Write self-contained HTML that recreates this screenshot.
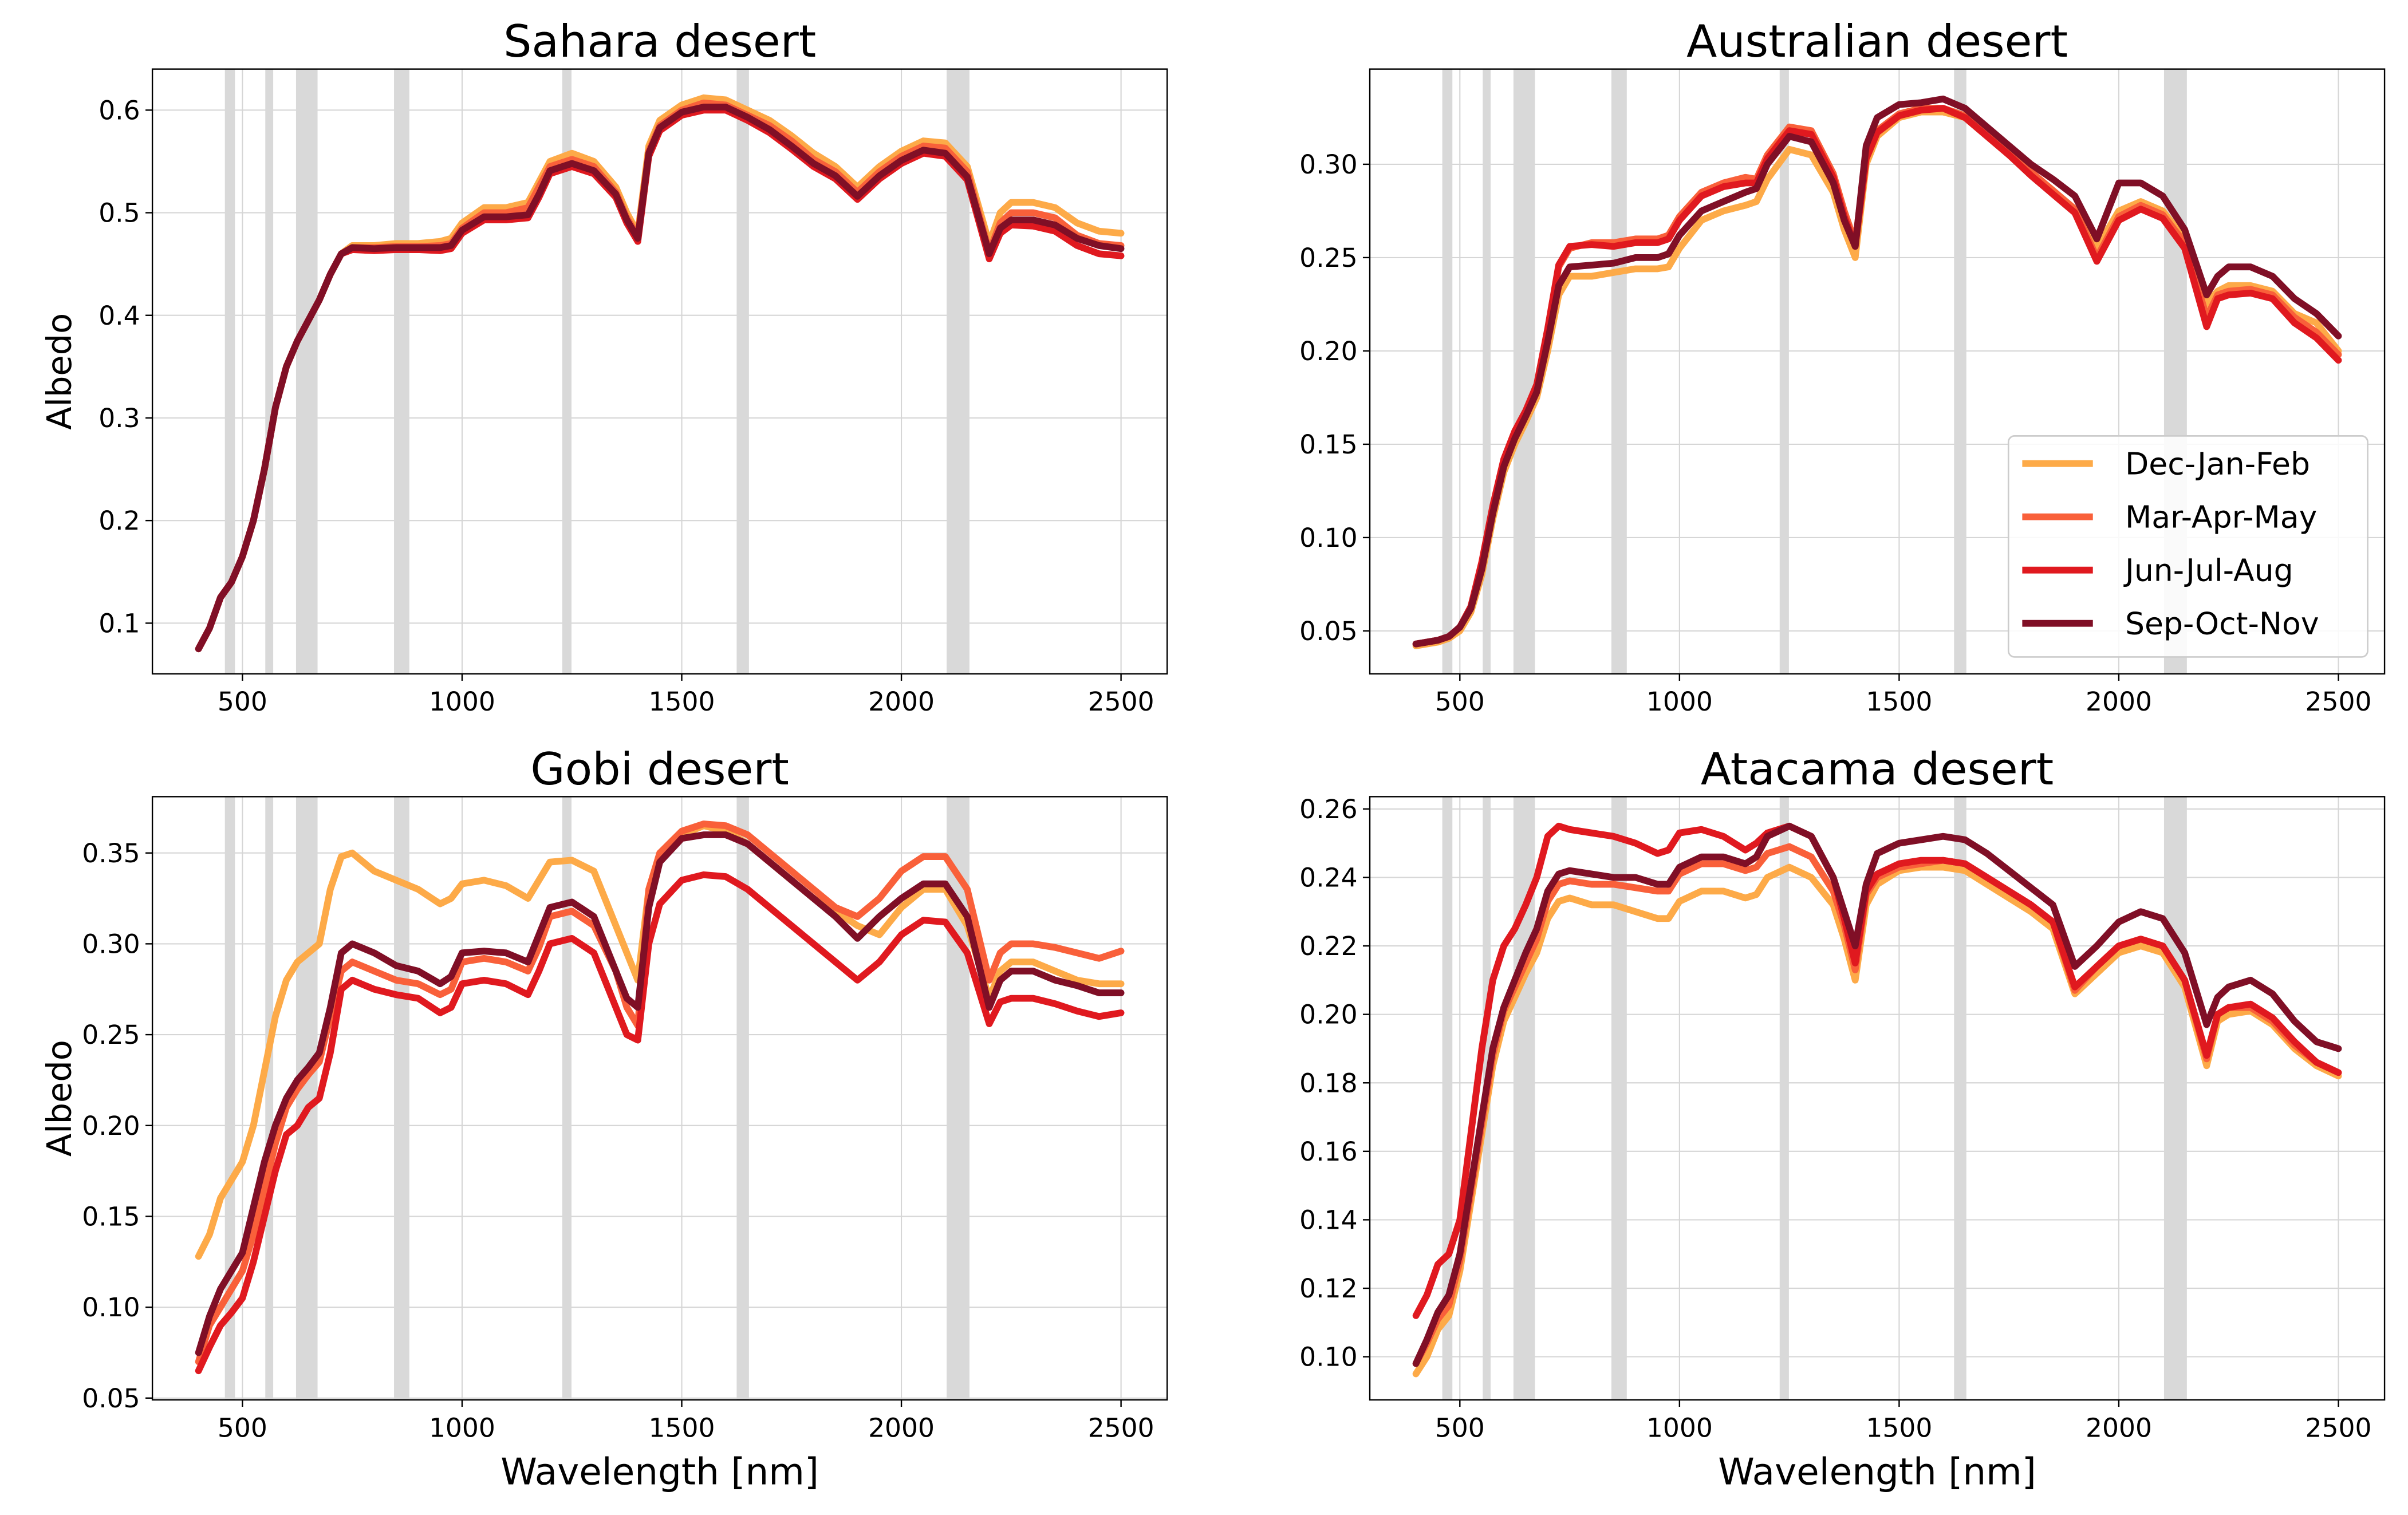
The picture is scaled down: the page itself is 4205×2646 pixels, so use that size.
<!DOCTYPE html>
<html><head><meta charset="utf-8"><style>
html,body{margin:0;padding:0;background:#fff;}
svg{display:block;font-family:"DejaVu Sans","Liberation Sans",sans-serif;}
</style></head><body>
<svg id="fig" width="4205" height="2646" viewBox="0 0 1568 987" xmlns="http://www.w3.org/2000/svg">
<rect width="1568" height="987" fill="#fff"/>
</svg>
<script>
const wl=[400,425,450,475,500,525,550,575,600,625,650,675,700,725,750,800,850,900,950,975,1000,1050,1100,1150,1175,1200,1250,1300,1350,1375,1400,1425,1450,1500,1550,1600,1650,1700,1750,1800,1850,1900,1950,2000,2050,2100,2150,2200,2225,2250,2300,2350,2400,2450,2500];
const seasons=["Dec-Jan-Feb","Mar-Apr-May","Jun-Jul-Aug","Sep-Oct-Nov"];
const bandStart=[460,552,622,845,1228,1625,2103];
const bandEnd=[483,570,671,880,1249,1653,2155];
const xTicks=[500,1000,1500,2000,2500];

const saharaDJF=[0.075,0.095,0.125,0.14,0.165,0.2,0.25,0.31,0.35,0.375,0.395,0.415,0.44,0.46,0.468,0.468,0.47,0.47,0.472,0.475,0.49,0.505,0.505,0.51,0.53,0.55,0.558,0.55,0.525,0.5,0.48,0.565,0.59,0.605,0.612,0.61,0.6,0.59,0.575,0.558,0.545,0.525,0.545,0.56,0.57,0.568,0.545,0.47,0.5,0.51,0.51,0.505,0.49,0.482,0.48];
const saharaMAM=[0.075,0.095,0.125,0.14,0.165,0.2,0.25,0.31,0.35,0.375,0.395,0.415,0.44,0.46,0.466,0.466,0.467,0.467,0.468,0.47,0.485,0.5,0.5,0.505,0.525,0.545,0.552,0.545,0.52,0.495,0.477,0.56,0.585,0.6,0.607,0.605,0.595,0.585,0.57,0.552,0.54,0.52,0.54,0.555,0.565,0.563,0.54,0.462,0.49,0.5,0.5,0.495,0.478,0.47,0.468];
const saharaJJA=[0.075,0.095,0.125,0.14,0.165,0.2,0.25,0.31,0.35,0.375,0.395,0.415,0.44,0.46,0.464,0.463,0.464,0.464,0.463,0.465,0.48,0.493,0.493,0.495,0.515,0.538,0.545,0.538,0.515,0.49,0.472,0.555,0.58,0.595,0.6,0.6,0.59,0.578,0.562,0.545,0.533,0.513,0.533,0.548,0.558,0.555,0.532,0.455,0.48,0.488,0.487,0.482,0.468,0.46,0.458];
const saharaSON=[0.075,0.095,0.125,0.14,0.165,0.2,0.25,0.31,0.35,0.375,0.395,0.415,0.44,0.46,0.466,0.465,0.466,0.466,0.466,0.468,0.483,0.496,0.496,0.498,0.518,0.541,0.548,0.541,0.518,0.493,0.475,0.558,0.583,0.598,0.603,0.603,0.593,0.581,0.565,0.548,0.536,0.516,0.536,0.551,0.561,0.558,0.535,0.46,0.485,0.493,0.493,0.488,0.475,0.468,0.465];

const ausDJF=[0.042,0.043,0.044,0.046,0.05,0.06,0.08,0.11,0.135,0.15,0.162,0.175,0.2,0.23,0.24,0.24,0.242,0.244,0.244,0.245,0.255,0.27,0.275,0.278,0.28,0.292,0.308,0.305,0.285,0.265,0.25,0.3,0.315,0.325,0.328,0.328,0.325,0.315,0.305,0.295,0.285,0.275,0.255,0.275,0.28,0.275,0.26,0.225,0.232,0.235,0.235,0.232,0.22,0.215,0.2];
const ausMAM=[0.043,0.044,0.045,0.047,0.052,0.063,0.085,0.115,0.14,0.155,0.167,0.18,0.21,0.245,0.255,0.258,0.258,0.26,0.26,0.262,0.272,0.285,0.29,0.293,0.292,0.305,0.32,0.318,0.295,0.275,0.258,0.305,0.318,0.327,0.33,0.33,0.326,0.316,0.306,0.296,0.286,0.276,0.25,0.272,0.278,0.273,0.258,0.218,0.23,0.232,0.233,0.23,0.218,0.21,0.198];
const ausJJA=[0.043,0.044,0.045,0.047,0.052,0.063,0.087,0.117,0.142,0.157,0.168,0.182,0.212,0.246,0.256,0.257,0.256,0.258,0.258,0.26,0.27,0.283,0.288,0.29,0.29,0.303,0.318,0.316,0.293,0.272,0.256,0.303,0.317,0.326,0.329,0.33,0.325,0.315,0.305,0.294,0.284,0.274,0.248,0.27,0.276,0.271,0.255,0.213,0.228,0.23,0.231,0.228,0.215,0.207,0.195];
const ausSON=[0.043,0.044,0.045,0.047,0.052,0.062,0.083,0.113,0.138,0.153,0.165,0.178,0.205,0.235,0.245,0.246,0.247,0.25,0.25,0.252,0.262,0.275,0.28,0.285,0.287,0.3,0.315,0.312,0.29,0.27,0.256,0.31,0.325,0.332,0.333,0.335,0.33,0.32,0.31,0.3,0.292,0.283,0.26,0.29,0.29,0.283,0.265,0.23,0.24,0.245,0.245,0.24,0.228,0.22,0.208];

const gobiDJF=[0.128,0.14,0.16,0.17,0.18,0.2,0.23,0.26,0.28,0.29,0.295,0.3,0.33,0.348,0.35,0.34,0.335,0.33,0.322,0.325,0.333,0.335,0.332,0.325,0.335,0.345,0.346,0.34,0.31,0.295,0.28,0.33,0.35,0.36,0.365,0.362,0.355,0.345,0.335,0.325,0.318,0.31,0.305,0.32,0.33,0.33,0.31,0.27,0.285,0.29,0.29,0.285,0.28,0.278,0.278];
const gobiMAM=[0.07,0.09,0.1,0.11,0.12,0.14,0.165,0.19,0.21,0.22,0.228,0.235,0.26,0.285,0.29,0.285,0.28,0.278,0.272,0.275,0.29,0.292,0.29,0.285,0.298,0.315,0.318,0.31,0.285,0.265,0.255,0.33,0.35,0.362,0.366,0.365,0.36,0.35,0.34,0.33,0.32,0.315,0.325,0.34,0.348,0.348,0.33,0.28,0.295,0.3,0.3,0.298,0.295,0.292,0.296];
const gobiJJA=[0.065,0.078,0.09,0.097,0.105,0.125,0.15,0.175,0.195,0.2,0.21,0.215,0.24,0.275,0.28,0.275,0.272,0.27,0.262,0.265,0.278,0.28,0.278,0.272,0.285,0.3,0.303,0.295,0.265,0.25,0.247,0.3,0.322,0.335,0.338,0.337,0.33,0.32,0.31,0.3,0.29,0.28,0.29,0.305,0.313,0.312,0.295,0.256,0.268,0.27,0.27,0.267,0.263,0.26,0.262];
const gobiSON=[0.075,0.095,0.11,0.12,0.13,0.155,0.18,0.2,0.215,0.225,0.232,0.24,0.265,0.295,0.3,0.295,0.288,0.285,0.278,0.282,0.295,0.296,0.295,0.29,0.305,0.32,0.323,0.315,0.285,0.27,0.265,0.32,0.345,0.358,0.36,0.36,0.355,0.345,0.335,0.325,0.315,0.303,0.315,0.325,0.333,0.333,0.315,0.265,0.28,0.285,0.285,0.28,0.277,0.273,0.273];

const ataDJF=[0.095,0.1,0.108,0.112,0.125,0.145,0.165,0.185,0.198,0.205,0.212,0.218,0.228,0.233,0.234,0.232,0.232,0.23,0.228,0.228,0.233,0.236,0.236,0.234,0.235,0.24,0.243,0.24,0.232,0.222,0.21,0.232,0.238,0.242,0.243,0.243,0.242,0.238,0.234,0.23,0.225,0.206,0.212,0.218,0.22,0.218,0.208,0.185,0.198,0.2,0.201,0.197,0.19,0.185,0.182];
const ataMAM=[0.098,0.104,0.111,0.115,0.128,0.148,0.168,0.188,0.201,0.208,0.215,0.222,0.233,0.238,0.239,0.238,0.238,0.237,0.236,0.236,0.241,0.244,0.244,0.242,0.243,0.247,0.249,0.246,0.236,0.226,0.213,0.235,0.24,0.243,0.244,0.245,0.244,0.24,0.236,0.232,0.227,0.207,0.214,0.22,0.222,0.22,0.21,0.187,0.2,0.202,0.202,0.198,0.191,0.186,0.183];
const ataJJA=[0.112,0.118,0.127,0.13,0.14,0.165,0.19,0.21,0.22,0.225,0.232,0.24,0.252,0.255,0.254,0.253,0.252,0.25,0.247,0.248,0.253,0.254,0.252,0.248,0.25,0.253,0.255,0.252,0.24,0.228,0.215,0.236,0.241,0.244,0.245,0.245,0.244,0.24,0.236,0.232,0.227,0.208,0.214,0.22,0.222,0.22,0.21,0.188,0.2,0.202,0.203,0.199,0.192,0.186,0.183];
const ataSON=[0.098,0.105,0.113,0.118,0.13,0.15,0.17,0.19,0.202,0.21,0.218,0.225,0.236,0.241,0.242,0.241,0.24,0.24,0.238,0.238,0.243,0.246,0.246,0.244,0.246,0.252,0.255,0.252,0.24,0.23,0.22,0.238,0.247,0.25,0.251,0.252,0.251,0.247,0.242,0.237,0.232,0.214,0.22,0.227,0.23,0.228,0.218,0.197,0.205,0.208,0.21,0.206,0.198,0.192,0.19];

const colors=["#fdaa48","#f9603a","#e0191f","#800f26"];
const NS="http://www.w3.org/2000/svg";
const svg=document.getElementById('fig');
function el(tag,attrs,parent){const e=document.createElementNS(NS,tag);for(const k in attrs)e.setAttribute(k,attrs[k]);(parent||svg).appendChild(e);return e;}

const panels=[
 {title:"Sahara desert",x0:99,x1:760,y0:45,y1:439,ymin:0.0506,ymax:0.640,yt:[0.1,0.2,0.3,0.4,0.5,0.6],dec:1,series:[saharaDJF,saharaMAM,saharaJJA,saharaSON],ylab:true,xlab:false,name:"sahara"},
 {title:"Australian desert",x0:892,x1:1553,y0:45,y1:439,ymin:0.027,ymax:0.351,yt:[0.05,0.10,0.15,0.20,0.25,0.30],dec:2,series:[ausDJF,ausMAM,ausJJA,ausSON],ylab:false,xlab:false,legend:true,name:"australian"},
 {title:"Gobi desert",x0:99,x1:760,y0:519,y1:912,ymin:0.049,ymax:0.381,yt:[0.05,0.10,0.15,0.20,0.25,0.30,0.35],dec:2,series:[gobiDJF,gobiMAM,gobiJJA,gobiSON],ylab:true,xlab:true,name:"gobi"},
 {title:"Atacama desert",x0:892,x1:1553,y0:519,y1:912,ymin:0.0874,ymax:0.2636,yt:[0.10,0.12,0.14,0.16,0.18,0.20,0.22,0.24,0.26],dec:2,series:[ataDJF,ataMAM,ataJJA,ataSON],ylab:false,xlab:true,name:"atacama"}
];
const xmin=295,xmax=2605;
panels.forEach((p,pi)=>{
 const g=el('g',{});
 
 
 const X=v=>p.x0+(v-xmin)/(xmax-xmin)*(p.x1-p.x0);
 const Y=v=>p.y1-(v-p.ymin)/(p.ymax-p.ymin)*(p.y1-p.y0);
 const cid='clip'+pi;
 const cp=el('clipPath',{id:cid},g);el('rect',{x:p.x0,y:p.y0,width:p.x1-p.x0,height:p.y1-p.y0},cp);
 xTicks.forEach(t=>{const l=el('line',{x1:X(t),x2:X(t),y1:p.y0,y2:p.y1,stroke:"#d6d6d6","stroke-width":0.8},g);});
 p.yt.forEach(t=>{const l=el('line',{x1:p.x0,x2:p.x1,y1:Y(t),y2:Y(t),stroke:"#d6d6d6","stroke-width":0.8},g);});
 bandStart.forEach((b,i)=>{const r=el('rect',{x:X(b),y:p.y0,width:X(bandEnd[i])-X(b),height:p.y1-p.y0,fill:"#d9d9d9"},g);});
 const sg=el('g',{'clip-path':`url(#${cid})`},g);
 p.series.forEach((s,si)=>{
  const pts=s.map((v,i)=>X(wl[i]).toFixed(2)+','+Y(v).toFixed(2)).join(' ');
  const pl=el('polyline',{points:pts,fill:"none",stroke:colors[si],"stroke-width":4.4,"stroke-linejoin":"round","stroke-linecap":"round"},sg);
  
  
 });
 const fr=el('rect',{x:p.x0,y:p.y0,width:p.x1-p.x0,height:p.y1-p.y0,fill:"none",stroke:"#000","stroke-width":0.9},g);
 
 xTicks.forEach(t=>{el('line',{x1:X(t),x2:X(t),y1:p.y1,y2:p.y1+4.5,stroke:"#000","stroke-width":0.9},g);
  const tx=el('text',{x:X(t),y:p.y1+24,"font-size":17,"text-anchor":"middle",fill:"#000"},g);tx.textContent=t;
  });
 p.yt.forEach(t=>{el('line',{x1:p.x0-4.5,x2:p.x0,y1:Y(t),y2:Y(t),stroke:"#000","stroke-width":0.9},g);
  const tx=el('text',{x:p.x0-8,y:Y(t)+6,"font-size":17,"text-anchor":"end",fill:"#000"},g);tx.textContent=t.toFixed(p.dec);
  });
 const ti=el('text',{x:(p.x0+p.x1)/2,y:p.y0-8,"font-size":29,"text-anchor":"middle",fill:"#000"},g);ti.textContent=p.title;
 
 if(p.ylab){const t=el('text',{x:0,y:0,"font-size":22,"text-anchor":"middle",fill:"#000",transform:`translate(46,${(p.y0+p.y1)/2}) rotate(-90)`},g);t.textContent="Albedo";
  }
 if(p.xlab){const t=el('text',{x:(p.x0+p.x1)/2,y:967,"font-size":24,"text-anchor":"middle",fill:"#000"},g);t.textContent="Wavelength [nm]";
  }
 if(p.legend){
  const lg=el('g',{},g);
  el('rect',{x:1308,y:284,width:234,height:144,rx:4,fill:"#fff","fill-opacity":0.85,stroke:"#ccc","stroke-width":1},lg);
  seasons.forEach((s,i)=>{const yy=302+i*34.7;
   const ln=el('line',{x1:1317,x2:1363,y1:yy,y2:yy,stroke:colors[i],"stroke-width":4.4},lg);
   
   const t=el('text',{x:1384,y:yy+7,"font-size":20,fill:"#000"},lg);t.textContent=s;
   });
 }
});
</script>
</body></html>
